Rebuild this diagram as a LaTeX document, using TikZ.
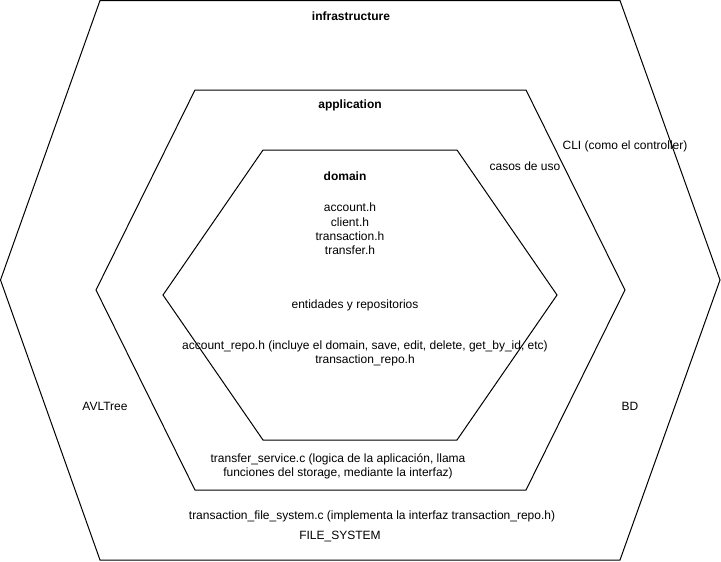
\documentclass[tikz,border=0pt]{standalone}
\usepackage{fontspec}
\setmainfont{Liberation Sans}
\begin{document}
\begin{tikzpicture}[x=0.75pt,y=-0.75pt,
  hexline/.style={draw=black,line width=0.75pt,line join=miter},
  lbl/.style={inner sep=0pt,font=\fontsize{9pt}{10.7pt}\selectfont,align=center,yshift=-1.2pt},
  title/.style={lbl,font=\fontsize{9pt}{10.7pt}\selectfont\bfseries}]
\useasboundingbox (0,0) rectangle (721,561);
% outer hexagon
\draw[hexline] (100,0.5) -- (620,0.5) -- (720,280) -- (620,560) -- (100,560) -- (0.5,280) -- cycle;
% middle hexagon
\draw[hexline] (195,90) -- (526,90) -- (625,290) -- (526,490) -- (195,490) -- (96,290) -- cycle;
% inner hexagon
\draw[hexline] (263,150) -- (457,150) -- (557,295) -- (457,440) -- (263,440) -- (163,295) -- cycle;

\node[title] (infra) at (351,15) {infrastructure};
\node[title] (app) at (350,104) {application};
\node[title] (dom) at (345,175) {domain};
\node[lbl] (ents) at (350,227.5) {account.h\\client.h\\transaction.h\\transfer.h};
\node[lbl] (entrep) at (355,304) {entidades y repositorios};
\node[lbl] (repos) at (365,352) {account\_repo.h (incluye el domain, save, edit, delete, get\_by\_id, etc)\\transaction\_repo.h};
\node[lbl] (casos) at (525,165) {casos de uso};
\node[lbl] (cli) at (625,145) {CLI (como el controller)};
\node[lbl] (avl) at (105,405) {AVLTree};
\node[lbl] (bd) at (630,405) {BD};
\node[lbl] (svc) at (338,464.5) {transfer\_service.c (logica de la aplicación, llama\\funciones del storage, mediante la interfaz)};
\node[lbl] (tfs) at (372,515) {transaction\_file\_system.c (implementa la interfaz transaction\_repo.h)};
\node[lbl] (fs) at (340,535) {FILE\_SYSTEM};
\end{tikzpicture}
\end{document}
